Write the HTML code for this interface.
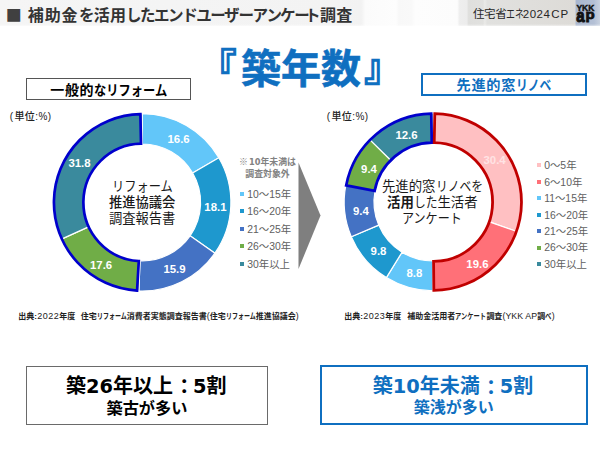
<!DOCTYPE html>
<html lang="ja"><head><meta charset="utf-8"><title>築年数</title>
<style>
html,body{margin:0;padding:0;background:#fff;}
body{width:600px;height:450px;position:relative;overflow:hidden;font-family:"Liberation Sans","Noto Sans CJK JP",sans-serif;color:#222;}
.abs{position:absolute;white-space:nowrap;line-height:1;}
.hdr{position:absolute;left:0;top:0;width:600px;height:25.5px;background:linear-gradient(90deg,#f5f5f5 0,#f3f3f3 56%,#f2f2f2 60.2%,#fbfbfb 60.9%,#fdfdfd 66%,#f8f8f8 66.5%,#f9f9f9 68.6%,#fdfdfd 69.2%,#fcfcfc 76.2%,#eeeeee 76.6%,#ececec 77.8%,#dfdfdd 78.1%,#e1e1df 80.5%,#eaeae8 80.8%,#e1e1df 81.2%,#dddbd7 95.8%,#a9b7cf 96.05%,#b4c0d5 99%,#c9d2e0 100%);}
.hdr:after{content:"";position:absolute;left:0;top:23.5px;width:100%;height:2px;background:linear-gradient(180deg,rgba(255,255,255,0),rgba(255,255,255,.55));}
.lm{position:absolute;width:4px;height:4px;}
.lt{position:absolute;white-space:nowrap;line-height:16px;height:16px;color:#606060;}
svg text{font-family:"Liberation Sans",sans-serif;}
.box{position:absolute;box-sizing:border-box;background:#fff;}
.c{text-align:center;}
.b{font-weight:bold;}
.dg{font-family:"DejaVu Sans",sans-serif;font-size:19.4px;}
.src{top:312.3px;font-size:8px;color:#222;font-weight:700}
.la{font-weight:400;font-size:8.8px;letter-spacing:.1px}
.sd{letter-spacing:.5px;margin-left:.3px;font-weight:400;font-size:9px}
.cl{position:relative;top:1.8px;left:1.3px}
.cjk{font-family:"Noto Sans CJK JP",sans-serif;}
</style></head><body>
<div class="hdr"></div>
<div id="sq" class="abs b cjk" style="left:5.8px;top:5.8px;font-size:16px;color:#404040;">■</div>
<div id="ttl" class="abs b" style="left:27.8px;top:7.9px;font-size:16px;color:#333;"><span style="letter-spacing:0.9px">補助金</span><span style="display:inline-block;width:15.30px;height:1em;margin-left:0px;margin-right:0px"><span style="display:inline-block;transform:scaleX(0.97);transform-origin:0 50%;letter-spacing:-0.23px">を</span></span><span style="letter-spacing:0.2px">活用</span><span style="display:inline-block;width:98.28px;height:1em;margin-left:0px;margin-right:0px"><span style="display:inline-block;transform:scaleX(0.97);transform-origin:0 50%;letter-spacing:-1.53px">したエンドユー</span></span><span style="display:inline-block;width:58.40px;height:1em;margin-left:0px;margin-right:0px"><span style="display:inline-block;transform:scaleX(0.97);transform-origin:0 50%;letter-spacing:-0.95px">ザーアン</span></span><span style="display:inline-block;width:28.30px;height:1em;margin-left:-2.6px;margin-right:0px"><span style="display:inline-block;transform:scaleX(0.97);transform-origin:0 50%;letter-spacing:-1.41px">ケー</span></span><span style="display:inline-block;width:12.00px;height:1em;margin-left:-3.4px;margin-right:2.8px"><span style="display:inline-block;transform:scaleX(0.97);transform-origin:0 50%;letter-spacing:-3.63px">ト</span></span><span style="letter-spacing:0.4px">調査</span></div>
<div id="cp" class="abs" style="left:473px;top:9.4px;font-size:11.5px;color:#262626"><span style="letter-spacing:-0.4px">住宅省</span><span style="display:inline-block;width:17.94px;height:1em;vertical-align:baseline"><span style="display:inline-block;transform:scaleX(0.78);transform-origin:0 50%;letter-spacing:0">エネ</span></span><span style="letter-spacing:.5px;margin-left:-1.5px">2024</span><span style="margin-left:.9px;letter-spacing:.9px">CP</span></div>
<svg id="logo" class="abs" style="left:570px;top:0" width="30" height="26" viewBox="570 0 30 26">
<text transform="translate(576.4,10.5) scale(.89,1)" font-size="9.6" font-weight="bold" fill="#111" stroke="#111" stroke-width=".45">YKK</text>
<text transform="translate(576.2,22.1) scale(.8,1)" font-size="18.8" font-weight="bold" fill="#111" stroke="#111" stroke-width="1.1">a</text>
<text transform="translate(585.4,22.1) scale(.8,.71) translate(0,-3.95)" font-size="18.8" font-weight="bold" fill="#111" stroke="#111" stroke-width="1.1">p</text>
</svg>

<div id="bl" class="abs b" style="left:199.5px;top:50.2px;font-size:37px;color:#0f6fc0;-webkit-text-stroke:1.3px #0f6fc0;">『</div>
<div id="big" class="abs b" style="left:241px;top:49.2px;font-size:40px;color:#0f6fc0;-webkit-text-stroke:.6px #0f6fc0;">築年数</div>
<div id="br" class="abs b" style="left:364.2px;top:50.2px;font-size:37px;color:#0f6fc0;-webkit-text-stroke:1.3px #0f6fc0;">』</div>

<div class="box" style="left:25.6px;top:77.6px;width:165.8px;height:22.5px;border:1.2px solid #555;"></div>
<div id="bxl" class="abs b" style="left:50.3px;top:82.8px;font-size:14px;color:#000;"><span style="letter-spacing:0.6px">一般的</span><span style="display:inline-block;width:73.50px;height:1em;vertical-align:baseline"><span style="display:inline-block;transform:scaleX(0.875);transform-origin:0 50%;letter-spacing:0">なリフォーム</span></span></div>
<div class="box" style="left:420.9px;top:72.7px;width:165.8px;height:23px;border:2px solid #0f6fc0;"></div>
<div id="bxr" class="abs b" style="left:456.5px;top:78.3px;font-size:14.2px;color:#0f6fc0;"><span style="letter-spacing:0.7px">先進的窓</span><span style="display:inline-block;width:35.36px;height:1em;vertical-align:baseline"><span style="display:inline-block;transform:scaleX(0.83);transform-origin:0 50%;letter-spacing:0">リノベ</span></span></div>

<div id="ul" class="abs" style="left:9.8px;top:111.5px;font-size:10px;color:#222;letter-spacing:.4px;font-weight:500"><span style="margin-right:.9px">(</span>単位:%)</div>
<div id="ur" class="abs" style="left:326.8px;top:111.5px;font-size:10px;color:#222;letter-spacing:.4px;font-weight:500"><span style="margin-right:.9px">(</span>単位:%)</div>

<svg class="abs" style="left:0;top:0" width="600" height="450" viewBox="0 0 600 450">
<path d="M142.20 113.70A88.7 88.7 0 0 1 218.83 157.73L192.65 172.99A58.4 58.4 0 0 0 142.20 144.00Z" fill="#62C6F9" stroke="#fff" stroke-width="1.2" stroke-linejoin="miter"/>
<path d="M218.83 157.73A88.7 88.7 0 0 1 214.93 253.17L190.09 235.83A58.4 58.4 0 0 0 192.65 172.99Z" fill="#1E98CE" stroke="#fff" stroke-width="1.2" stroke-linejoin="miter"/>
<path d="M214.93 253.17A88.7 88.7 0 0 1 138.86 291.04L140.00 260.76A58.4 58.4 0 0 0 190.09 235.83Z" fill="#4472C4" stroke="#fff" stroke-width="1.2" stroke-linejoin="miter"/>
<path d="M138.86 291.04A88.7 88.7 0 0 1 61.47 239.16L89.05 226.60A58.4 58.4 0 0 0 140.00 260.76Z" fill="#70AD47" stroke="#fff" stroke-width="1.2" stroke-linejoin="miter"/>
<path d="M61.47 239.16A88.7 88.7 0 0 1 142.20 113.70L142.20 144.00A58.4 58.4 0 0 0 89.05 226.60Z" fill="#3A8A9D" stroke="#fff" stroke-width="1.2" stroke-linejoin="miter"/>
<path d="M137.07 290.55A88.3 88.3 0 0 1 140.40 114.12L141.00 143.61A58.8 58.8 0 0 0 138.79 261.10Z" fill="none" stroke="#0000CC" stroke-width="2.7" stroke-linejoin="miter"/>
<text id="dl0" x="178.6" y="142.6" text-anchor="middle" font-size="11.4" font-weight="bold" fill="#fff">16.6</text>
<text id="dl1" x="215.4" y="210.6" text-anchor="middle" font-size="11.4" font-weight="bold" fill="#fff">18.1</text>
<text id="dl2" x="174.5" y="273.3" text-anchor="middle" font-size="11.4" font-weight="bold" fill="#fff">15.9</text>
<text id="dl3" x="101.1" y="268.8" text-anchor="middle" font-size="11.4" font-weight="bold" fill="#fff">17.6</text>
<text id="dl4" x="79.5" y="167.3" text-anchor="middle" font-size="11.4" font-weight="bold" fill="#fff">31.8</text>
<path d="M433.00 113.20A88.8 88.8 0 0 1 516.74 231.55L488.64 221.64A59.0 59.0 0 0 0 433.00 143.00Z" fill="#FFC0C2" stroke="#fff" stroke-width="1.2" stroke-linejoin="miter"/>
<path d="M516.74 231.55A88.8 88.8 0 0 1 433.00 290.80L433.00 261.00A59.0 59.0 0 0 0 488.64 221.64Z" fill="#FF7078" stroke="#fff" stroke-width="1.2" stroke-linejoin="miter"/>
<path d="M433.00 290.80A88.8 88.8 0 0 1 386.36 277.57L402.01 252.21A59.0 59.0 0 0 0 433.00 261.00Z" fill="#62C6F9" stroke="#fff" stroke-width="1.2" stroke-linejoin="miter"/>
<path d="M386.36 277.57A88.8 88.8 0 0 1 351.28 236.75L378.71 225.09A59.0 59.0 0 0 0 402.01 252.21Z" fill="#1E98CE" stroke="#fff" stroke-width="1.2" stroke-linejoin="miter"/>
<path d="M351.28 236.75A88.8 88.8 0 0 1 345.77 185.36L375.05 190.94A59.0 59.0 0 0 0 378.71 225.09Z" fill="#4472C4" stroke="#fff" stroke-width="1.2" stroke-linejoin="miter"/>
<path d="M345.77 185.36A88.8 88.8 0 0 1 369.82 139.60L391.02 160.54A59.0 59.0 0 0 0 375.05 190.94Z" fill="#70AD47" stroke="#fff" stroke-width="1.2" stroke-linejoin="miter"/>
<path d="M369.82 139.60A88.8 88.8 0 0 1 433.00 113.20L433.00 143.00A59.0 59.0 0 0 0 391.02 160.54Z" fill="#3A8A9D" stroke="#fff" stroke-width="1.2" stroke-linejoin="miter"/>
<path d="M346.17 185.44A88.39999999999999 88.39999999999999 0 0 1 431.21 113.62L431.79 142.61A59.4 59.4 0 0 0 374.65 190.87Z" fill="none" stroke="#0000CC" stroke-width="2.7" stroke-linejoin="miter"/>
<path d="M434.79 113.62A88.39999999999999 88.39999999999999 0 0 1 433.84 290.40L433.56 261.40A59.4 59.4 0 0 0 434.21 142.61Z" fill="none" stroke="#C00000" stroke-width="2.8" stroke-linejoin="miter"/>
<text id="dr0" x="494.6" y="164.3" text-anchor="middle" font-size="11.4" font-weight="bold" fill="#FFE3E4">30.4</text>
<text id="dr1" x="477.4" y="267.8" text-anchor="middle" font-size="11.4" font-weight="bold" fill="#fff">19.6</text>
<text id="dr2" x="414.4" y="277.3" text-anchor="middle" font-size="11.4" font-weight="bold" fill="#fff">8.8</text>
<text id="dr3" x="378.5" y="255.3" text-anchor="middle" font-size="11.4" font-weight="bold" fill="#fff">9.8</text>
<text id="dr4" x="360.9" y="214.5" text-anchor="middle" font-size="11.4" font-weight="bold" fill="#fff">9.4</text>
<text id="dr5" x="369.0" y="173.0" text-anchor="middle" font-size="11.4" font-weight="bold" fill="#fff">9.4</text>
<text id="dr6" x="406.5" y="139.0" text-anchor="middle" font-size="11.4" font-weight="bold" fill="#fff">12.6</text>
<polygon points="298.5,162.5 320.5,215.5 298.5,269" fill="#7f7f7f"/>
</svg>

<div id="cl" class="abs c" style="left:92.2px;top:178.5px;width:100px;font-size:13.3px;line-height:16.1px;color:#1a1a1a"><span style="display:inline-block;width:61.18px;height:1em;vertical-align:baseline"><span style="display:inline-block;transform:scaleX(0.92);transform-origin:0 50%;letter-spacing:0">リフォーム</span></span><br><span style="font-weight:500">推進協議会</span><br>調査報告書</div>
<div id="cr" class="abs c" style="left:372.3px;top:178.5px;width:120px;font-size:13.4px;line-height:16.1px;color:#1a1a1a">先進的窓<span style="display:inline-block;width:47.17px;height:1em;vertical-align:baseline"><span style="display:inline-block;transform:scaleX(0.88);transform-origin:0 50%;letter-spacing:0">リノベを</span></span><br><b style="font-weight:700">活用</b><span style="display:inline-block;width:23.58px;height:1em;vertical-align:baseline"><span style="display:inline-block;transform:scaleX(0.88);transform-origin:0 50%;letter-spacing:0">した</span></span>生活者<br><span style="display:inline-block;width:60.30px;height:1em;vertical-align:baseline"><span style="display:inline-block;transform:scaleX(0.9);transform-origin:0 50%;letter-spacing:0">アンケート</span></span></div>

<div id="note" class="abs c b" style="left:237.5px;top:155.8px;width:60px;font-size:8.9px;line-height:12px;color:#828282"><span class="cjk" style="margin-right:1.2px">※</span><span style="font-family:'DejaVu Sans',sans-serif;font-size:8.2px">10</span>年未満は<br>調査対象外</div>
<div class="lm" style="left:240.4px;top:191.7px;background:#62C6F9"></div>
<div id="ll0" class="lt" style="left:247.2px;top:186.5px;font-size:10.4px">10～15年</div>
<div class="lm" style="left:240.4px;top:209.2px;background:#1E98CE"></div>
<div id="ll1" class="lt" style="left:247.2px;top:204.0px;font-size:10.4px">16～20年</div>
<div class="lm" style="left:240.4px;top:226.7px;background:#4472C4"></div>
<div id="ll2" class="lt" style="left:247.2px;top:221.5px;font-size:10.4px">21～25年</div>
<div class="lm" style="left:240.4px;top:244.3px;background:#70AD47"></div>
<div id="ll3" class="lt" style="left:247.2px;top:239.10000000000002px;font-size:10.4px">26～30年</div>
<div class="lm" style="left:240.4px;top:261.9px;background:#3A8A9D"></div>
<div id="ll4" class="lt" style="left:247.2px;top:256.7px;font-size:10.4px">30年以上</div>
<div class="lm" style="left:536.9px;top:163.4px;background:#FFC0C2"></div>
<div id="lr0" class="lt" style="left:544.2px;top:158.20000000000002px;font-size:10.4px">0～5年</div>
<div class="lm" style="left:536.9px;top:179.8px;background:#FF7078"></div>
<div id="lr1" class="lt" style="left:544.2px;top:174.60000000000002px;font-size:10.4px">6～10年</div>
<div class="lm" style="left:536.9px;top:196.3px;background:#62C6F9"></div>
<div id="lr2" class="lt" style="left:544.2px;top:191.10000000000002px;font-size:10.4px">11～15年</div>
<div class="lm" style="left:536.9px;top:212.7px;background:#1E98CE"></div>
<div id="lr3" class="lt" style="left:544.2px;top:207.5px;font-size:10.4px">16～20年</div>
<div class="lm" style="left:536.9px;top:229.2px;background:#4472C4"></div>
<div id="lr4" class="lt" style="left:544.2px;top:224.0px;font-size:10.4px">21～25年</div>
<div class="lm" style="left:536.9px;top:245.6px;background:#70AD47"></div>
<div id="lr5" class="lt" style="left:544.2px;top:240.4px;font-size:10.4px">26～30年</div>
<div class="lm" style="left:536.9px;top:262.1px;background:#3A8A9D"></div>
<div id="lr6" class="lt" style="left:544.2px;top:256.90000000000003px;font-size:10.4px">30年以上</div>

<div id="srcl1" class="abs src" style="left:18.3px;">出典:<span class="sd">2022</span>年度</div>
<div id="srcl2" class="abs src" style="left:80.8px;">住宅<span style="display:inline-block;width:30.00px;height:1em;vertical-align:baseline"><span style="display:inline-block;transform:scaleX(0.75);transform-origin:0 50%;letter-spacing:0">リフォーム</span></span>消費者実態調査報告書<span class="la">(</span>住宅<span style="display:inline-block;width:30.00px;height:1em;vertical-align:baseline"><span style="display:inline-block;transform:scaleX(0.75);transform-origin:0 50%;letter-spacing:0">リフォーム</span></span>推進協議会<span class="la">)</span></div>
<div id="srcr1" class="abs src" style="left:344.3px;">出典:<span class="sd">2023</span>年度</div>
<div id="srcr2" class="abs src" style="left:407.2px;">補助金活用者<span style="display:inline-block;width:31.20px;height:1em;vertical-align:baseline"><span style="display:inline-block;transform:scaleX(0.78);transform-origin:0 50%;letter-spacing:0">アンケート</span></span>調査<span class="la">(YKK AP</span>調<span style="display:inline-block;width:6.40px;height:1em;vertical-align:baseline"><span style="display:inline-block;transform:scaleX(0.8);transform-origin:0 50%;letter-spacing:0">べ</span></span><span class="la">)</span></div>

<div class="box" style="left:26px;top:366px;width:242.4px;height:58.6px;border:1.3px solid #6a6a6a;"></div>
<div id="b1l" class="abs b" style="left:66px;top:375.6px;font-size:20px;color:#000">築<span class="dg">26</span>年以上<span class="cl">：</span><span class="dg">5</span>割</div>
<div id="b2l" class="abs b" style="left:106.5px;top:400.3px;font-size:16.2px;color:#000">築古が多い</div>
<div class="box" style="left:319.8px;top:365.4px;width:268.6px;height:59.8px;border:2.2px solid #0f6fc0;"></div>
<div id="b1r" class="abs b" style="left:372.8px;top:376px;font-size:20px;color:#0f6fc0">築<span class="dg">10</span>年未満<span class="cl">：</span><span class="dg">5</span>割</div>
<div id="b2r" class="abs b" style="left:413.7px;top:399.8px;font-size:16px;color:#0f6fc0">築浅が多い</div>
</body></html>
